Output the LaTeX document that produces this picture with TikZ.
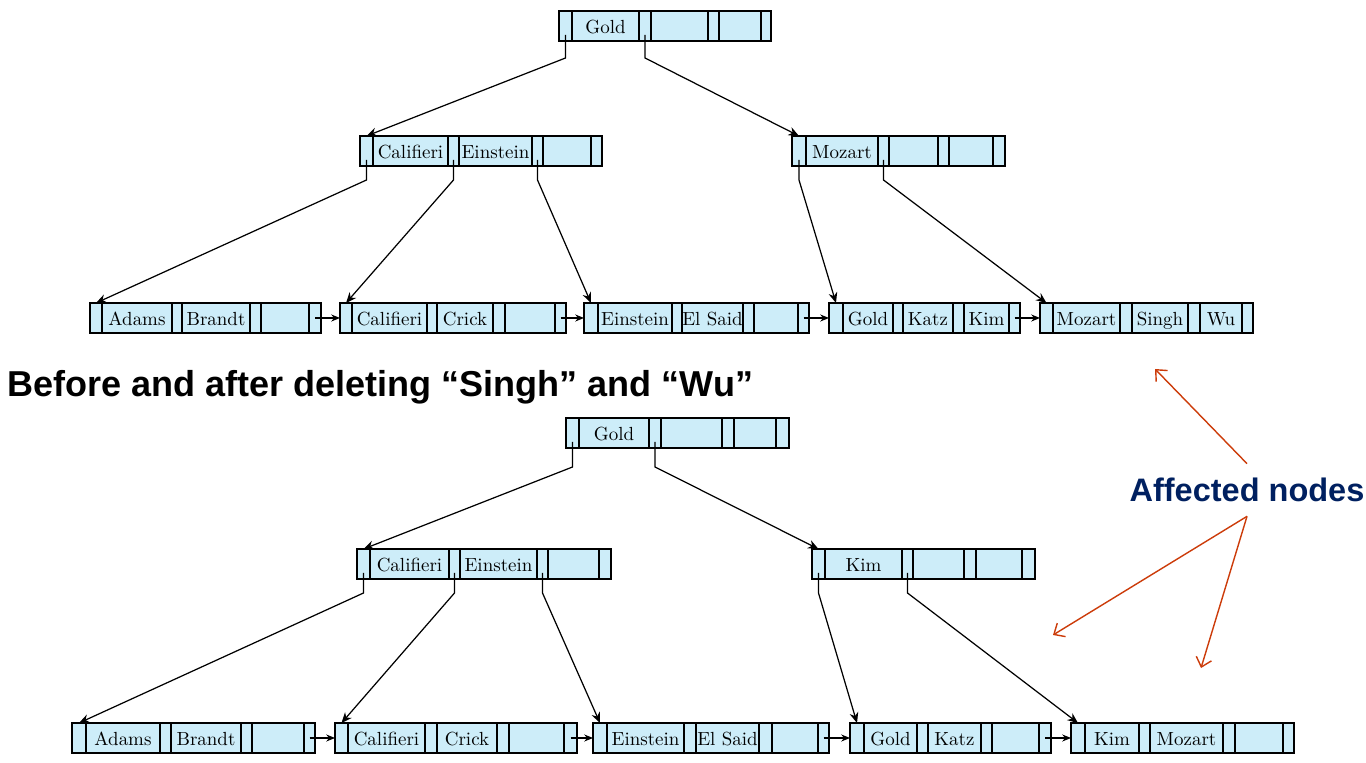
\documentclass[tikz,border=0pt]{standalone}
\usepackage{fontspec}
\usepackage{xcolor}
\usepackage{tikz}
\usetikzlibrary{arrows, arrows.meta, positioning, calc}
\newfontfamily\slidefont{Liberation Sans}
\definecolor{cellblue}{RGB}{205,237,249}
\definecolor{navy}{RGB}{0,32,96}
\definecolor{rust}{RGB}{204,60,10}
\tikzstyle{cell} = [draw, fill=cellblue, anchor=north west, minimum height=0.6cm, inner sep=0pt, outer sep=0pt, line width=0.7pt, text height=2.2ex, text depth=0.24ex, font=\fontsize{10.8}{12}\selectfont]
\tikzstyle{ptrarrow} = [line width=0.7pt,-{Stealth[length=6pt,width=5pt]}]
\tikzstyle{nextarrow} = [line width=0.7pt,-{Stealth[length=5pt,width=4pt]}]
\tikzstyle{affarrow} = [rust, line width=0.8pt, -{Straight Barb[length=5pt,width=9pt]}]
\tikzstyle{headline} = [anchor=west, inner sep=0pt, font=\slidefont\bfseries\fontsize{20.5}{24}\selectfont]
\tikzstyle{afftext} = [navy, inner xsep=0pt, inner ysep=8pt, font=\slidefont\bfseries\fontsize{18.5}{22}\selectfont]
% one B+-tree node: name, top y, cells as left/right/part/key
\newcommand{\bpnode}[3]{%
  \foreach \xa/\xb/\cname/\ktext in {#3}
    \node[cell, minimum width={(\xb-\xa)*0.02cm}] (#1-\cname) at (\xa,#2) {\ktext};
}

\begin{document}
\begin{tikzpicture}[x=0.02cm, y=-0.02cm]
\useasboundingbox (0,0) rectangle (1366,763);

% before deleting
\bpnode{aroot}{11}{559/572/p0/{}, 572/639/k1/Gold, 639/651/p1/{}, 651/708/k2/{}, 708/719/p2/{}, 719/761/k3/{}, 761/771/p3/{}}
\bpnode{ain1}{136}{360/373/p0/{}, 373/448/k1/Califieri, 448/459/p1/{}, 459/532/k2/Einstein, 532/543/p2/{}, 543/591/k3/{}, 591/602/p3/{}}
\bpnode{ain2}{136}{792/806/p0/{}, 806/878/k1/Mozart, 878/889/p1/{}, 889/938/k2/{}, 938/949/p2/{}, 949/993/k3/{}, 993/1005/p3/{}}
\bpnode{aleaf1}{303}{90/102/p0/{}, 102/172/k1/Adams, 172/182/p1/{}, 182/250/k2/Brandt, 250/261/p2/{}, 261/309/k3/{}, 309/321/p3/{}}
\bpnode{aleaf2}{303}{340/352/p0/{}, 352/427/k1/Califieri, 427/437/p1/{}, 437/493/k2/Crick, 493/505/p2/{}, 505/555/k3/{}, 555/566/p3/{}}
\bpnode{aleaf3}{303}{584/598/p0/{}, 598/672/k1/Einstein, 672/682/p1/{}, 682/743/k2/El Said, 743/754/p2/{}, 754/798/k3/{}, 798/809/p3/{}}
\bpnode{aleaf4}{303}{829/843/p0/{}, 843/893/k1/Gold, 893/903/p1/{}, 903/953/k2/Katz, 953/964/p2/{}, 964/1009/k3/Kim, 1009/1020/p3/{}}
\bpnode{aleaf5}{303}{1040/1053/p0/{}, 1053/1120/k1/Mozart, 1120/1132/p1/{}, 1132/1188/k2/Singh, 1188/1200/p2/{}, 1200/1242/k3/Wu, 1242/1253/p3/{}}

\draw[ptrarrow] ($(aroot-p0.south)+(0,-6)$) -- ++(0,23) -- (ain1-p0.north);
\draw[ptrarrow] ($(aroot-p1.south)+(0,-6)$) -- ++(0,23) -- (ain2-p0.north);
\draw[ptrarrow] ($(ain1-p0.south)+(0,-6)$) -- ++(0,20) -- (aleaf1-p0.north);
\draw[ptrarrow] ($(ain1-p1.south)+(0,-6)$) -- ++(0,20) -- (aleaf2-p0.north);
\draw[ptrarrow] ($(ain1-p2.south)+(0,-6)$) -- ++(0,20) -- (aleaf3-p0.north);
\draw[ptrarrow] ($(ain2-p0.south)+(0,-6)$) -- ++(0,20) -- (aleaf4-p0.north);
\draw[ptrarrow] ($(ain2-p1.south)+(0,-6)$) -- ++(0,20) -- (aleaf5-p0.north);
\draw[nextarrow] (aleaf1-p3.center) -- (aleaf2-p0.west);
\draw[nextarrow] (aleaf2-p3.center) -- (aleaf3-p0.west);
\draw[nextarrow] (aleaf3-p3.center) -- (aleaf4-p0.west);
\draw[nextarrow] (aleaf4-p3.center) -- (aleaf5-p0.west);

\node[headline] (title) at (7,387) {Before and after deleting “Singh” and “Wu”};

% after deleting
\bpnode{broot}{418}{566/579/p0/{}, 579/649/k1/Gold, 649/661/p1/{}, 661/722/k2/{}, 722/734/p2/{}, 734/776/k3/{}, 776/789/p3/{}}
\bpnode{bin1}{549}{357/370/p0/{}, 370/449/k1/Califieri, 449/460/p1/{}, 460/537/k2/Einstein, 537/548/p2/{}, 548/599/k3/{}, 599/611/p3/{}}
\bpnode{bin2}{549}{812/825/p0/{}, 825/902/k1/Kim, 902/913/p1/{}, 913/964/k2/{}, 964/976/p2/{}, 976/1022/k3/{}, 1022/1035/p3/{}}
\bpnode{bleaf1}{723}{72/86/p0/{}, 86/160/k1/Adams, 160/171/p1/{}, 171/241/k2/Brandt, 241/252/p2/{}, 252/304/k3/{}, 304/315/p3/{}}
\bpnode{bleaf2}{723}{335/348/p0/{}, 348/425/k1/Califieri, 425/437/p1/{}, 437/497/k2/Crick, 497/509/p2/{}, 509/564/k3/{}, 564/577/p3/{}}
\bpnode{bleaf3}{723}{593/607/p0/{}, 607/684/k1/Einstein, 684/696/p1/{}, 696/759/k2/El Said, 759/772/p2/{}, 772/818/k3/{}, 818/829/p3/{}}
\bpnode{bleaf4}{723}{850/864/p0/{}, 864/917/k1/Gold, 917/928/p1/{}, 928/981/k2/Katz, 981/992/p2/{}, 992/1039/k3/{}, 1039/1051/p3/{}}
\bpnode{bleaf5}{723}{1071/1085/p0/{}, 1085/1139/k1/Kim, 1139/1150/p1/{}, 1150/1223/k2/Mozart, 1223/1235/p2/{}, 1235/1283/k3/{}, 1283/1294/p3/{}}

\draw[ptrarrow] ($(broot-p0.south)+(0,-6)$) -- ++(0,25) -- (bin1-p0.north);
\draw[ptrarrow] ($(broot-p1.south)+(0,-6)$) -- ++(0,25) -- (bin2-p0.north);
\draw[ptrarrow] ($(bin1-p0.south)+(0,-6)$) -- ++(0,20) -- (bleaf1-p0.north);
\draw[ptrarrow] ($(bin1-p1.south)+(0,-6)$) -- ++(0,20) -- (bleaf2-p0.north);
\draw[ptrarrow] ($(bin1-p2.south)+(0,-6)$) -- ++(0,20) -- (bleaf3-p0.north);
\draw[ptrarrow] ($(bin2-p0.south)+(0,-6)$) -- ++(0,20) -- (bleaf4-p0.north);
\draw[ptrarrow] ($(bin2-p1.south)+(0,-6)$) -- ++(0,20) -- (bleaf5-p0.north);
\draw[nextarrow] (bleaf1-p3.center) -- (bleaf2-p0.west);
\draw[nextarrow] (bleaf2-p3.center) -- (bleaf3-p0.west);
\draw[nextarrow] (bleaf3-p3.center) -- (bleaf4-p0.west);
\draw[nextarrow] (bleaf4-p3.center) -- (bleaf5-p0.west);

% affected nodes
\node[afftext] (aff) at (1247,490) {Affected nodes};
\coordinate (hit1) at (1155,369);
\coordinate (hit2) at (1053,635);
\coordinate (hit3) at (1201,668);
\draw[affarrow] (aff.north) -- (hit1);
\draw[affarrow] (aff.south) -- (hit2);
\draw[affarrow] (aff.south) -- (hit3);
\end{tikzpicture}
\end{document}
